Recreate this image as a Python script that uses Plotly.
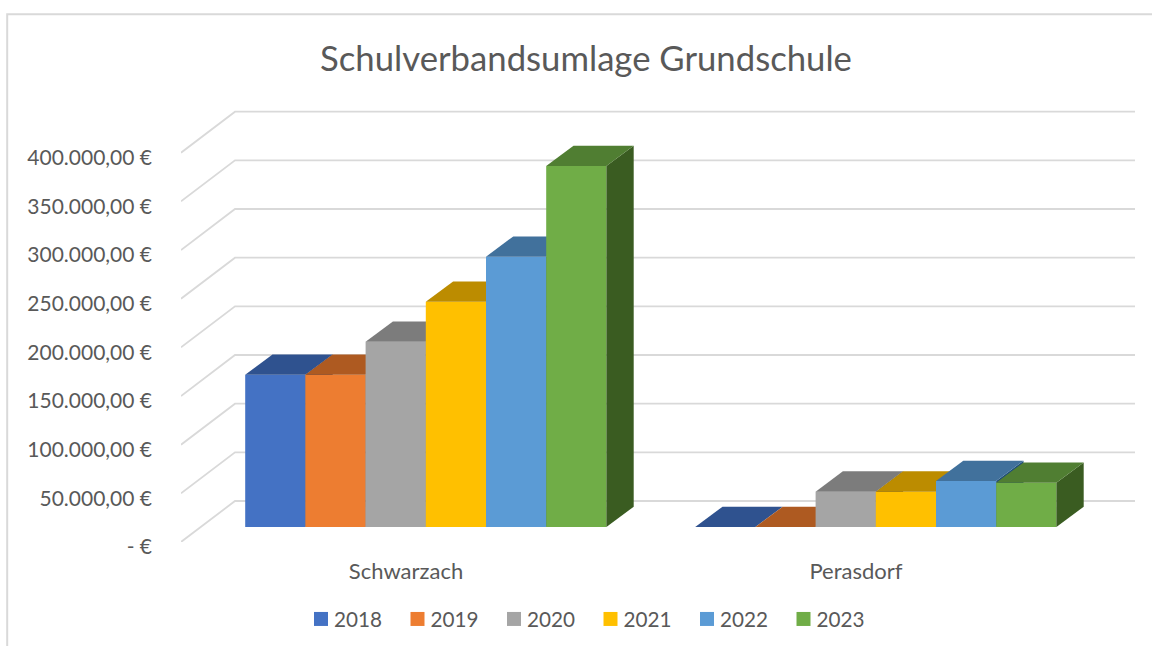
import plotly.graph_objects as go

title = "Schulverbandsumlage Grundschule"
categories = ["Schwarzach", "Perasdorf"]
years = ["2018", "2019", "2020", "2021", "2022", "2023"]
v2018 = [156500, 0]
v2019 = [156500, 0]
v2020 = [190400, 36300]
v2021 = [231500, 36300]
v2022 = [277700, 47300]
v2023 = [370900, 45500]
series = [v2018, v2019, v2020, v2021, v2022, v2023]
tick_values = [0, 50000, 100000, 150000, 200000, 250000, 300000, 350000, 400000]
tick_labels = ["- €", "50.000,00 €", "100.000,00 €", "150.000,00 €", "200.000,00 €",
               "250.000,00 €", "300.000,00 €", "350.000,00 €", "400.000,00 €"]
front = ["#4472C4", "#ED7D31", "#A5A5A5", "#FFC000", "#5B9BD5", "#70AD47"]
top = ["#2F528F", "#AE5A21", "#7C7C7C", "#BC8C00", "#41719C", "#507E32"]
side = ["#264478", "#843C0C", "#525252", "#7F6000", "#1F4E79", "#3A5C21"]

W, H = 1152, 646
L, R, T, B = 181, 1135, 106, 542
PX_PER_X = 450.0
PX_PER_Y = 0.0009733
xmin = -0.5
xmax = xmin + (R - L) / PX_PER_X
ymax = (B - T) / PX_PER_Y
xpx = lambda p: p / PX_PER_X
ypx = lambda p: p / PX_PER_Y

wall_dx, wall_dy = xpx(54), ypx(41)      # depth of the side wall
start_dx, start_dy = xpx(19.8), ypx(15)  # where the bars start in depth
depth_dx, depth_dy = xpx(27.3), ypx(20.3)  # depth of a bar
bar_w = xpx(60.2)
group_w = bar_w * len(years)

grey = "#D9D9D9"
text = "#595959"
FONT = "Lato"

fig = go.Figure()

# back-wall gridlines, taken from the axis tick values
for v in tick_values:
    fig.add_trace(go.Scatter(
        x=[xmin, xmin + wall_dx, xmax], y=[v, v + wall_dy, v + wall_dy],
        mode="lines", line=dict(color=grey, width=1.8), showlegend=False, hoverinfo="skip"))

for k, (name, values) in enumerate(zip(years, series)):
    n = k + 2
    ax = dict(x=f"x{n}", y=f"y{n}")
    off = start_dx - group_w / 2 + k * bar_w
    fig.add_trace(go.Bar(
        name=name, x=list(range(len(categories))), y=values, base=[start_dy] * len(values),
        width=bar_w, offset=off, marker=dict(color=front[k], line=dict(width=0)),
        xaxis=ax["x"], yaxis=ax["y"]))
    for i, v in enumerate(values):
        x0 = i + off
        x1 = x0 + bar_w
        y0 = start_dy
        y1 = start_dy + v
        fig.add_trace(go.Scatter(
            x=[x1, x1 + depth_dx, x1 + depth_dx, x1, x1],
            y=[y0, y0 + depth_dy, y1 + depth_dy, y1, y0],
            mode="lines", line=dict(width=0), fill="toself", fillcolor=side[k],
            showlegend=False, hoverinfo="skip", xaxis=ax["x"], yaxis=ax["y"]))
        fig.add_trace(go.Scatter(
            x=[x0, x1, x1 + depth_dx, x0 + depth_dx, x0],
            y=[y1, y1, y1 + depth_dy, y1 + depth_dy, y1],
            mode="lines", line=dict(width=0), fill="toself", fillcolor=top[k],
            showlegend=False, hoverinfo="skip", xaxis=ax["x"], yaxis=ax["y"]))

layout = dict(
    width=W, height=H, autosize=False,
    margin=dict(l=L, r=W - R, t=T, b=H - B, pad=0, autoexpand=False),
    paper_bgcolor="white", plot_bgcolor="rgba(0,0,0,0)",
    barmode="overlay",
    title=dict(text=title, font=dict(family=FONT, size=34.7, color=text),
               x=586 / W, xref="container", xanchor="center",
               y=1 - 59 / H, yref="container", yanchor="middle"),
    xaxis=dict(range=[xmin, xmax], tickmode="array", tickvals=list(range(len(categories))),
               ticktext=categories, showgrid=False, zeroline=False, showline=False,
               ticks="", ticklabelstandoff=14, tickfont=dict(family=FONT, size=22, color=text)),
    yaxis=dict(range=[0, ymax], tickmode="array", tickvals=tick_values, ticktext=tick_labels,
               showgrid=False, zeroline=False, showline=False, ticks="",
               ticklabelstandoff=28, ticklabelshift=5,
               tickfont=dict(family=FONT, size=21, color=text)),
    legend=dict(orientation="h", x=(294 - L) / (R - L), xanchor="left",
                y=(B - 599) / (B - T), yanchor="top", entrywidth=51.5, entrywidthmode="pixels",
                font=dict(family=FONT, size=20.7, color=text), traceorder="normal", tracegroupgap=0,
                itemclick=False, itemdoubleclick=False),
    showlegend=True,
    shapes=[dict(type="path", xref="paper", yref="paper", layer="below",
                 path="M {a},{b} L {a},{c} L {d},{c}".format(
                     a=(7.2 - L) / (R - L), b=(B - H - 2) / (B - T), c=(B - 14.3) / (B - T),
                     d=(W + 2 - L) / (R - L)),
                 line=dict(color=grey, width=2))],
)
for k in range(len(years)):
    n = k + 2
    layout[f"xaxis{n}"] = dict(range=[xmin, xmax], overlaying="x", visible=False, matches="x")
    layout[f"yaxis{n}"] = dict(range=[0, ymax], overlaying="y", visible=False, matches="y")
fig.update_layout(**layout)

post = """
document.body.style.margin='0';
document.querySelectorAll('.legendsymbols').forEach(function(g){g.setAttribute('transform','translate(7,0)');});
document.querySelectorAll('.legendbar path, .legendpoints path').forEach(function(p){p.setAttribute('d','M7,7H-7V-7H7Z');});
"""
fig.write_html("out.html", config=dict(displayModeBar=False), post_script=post)
